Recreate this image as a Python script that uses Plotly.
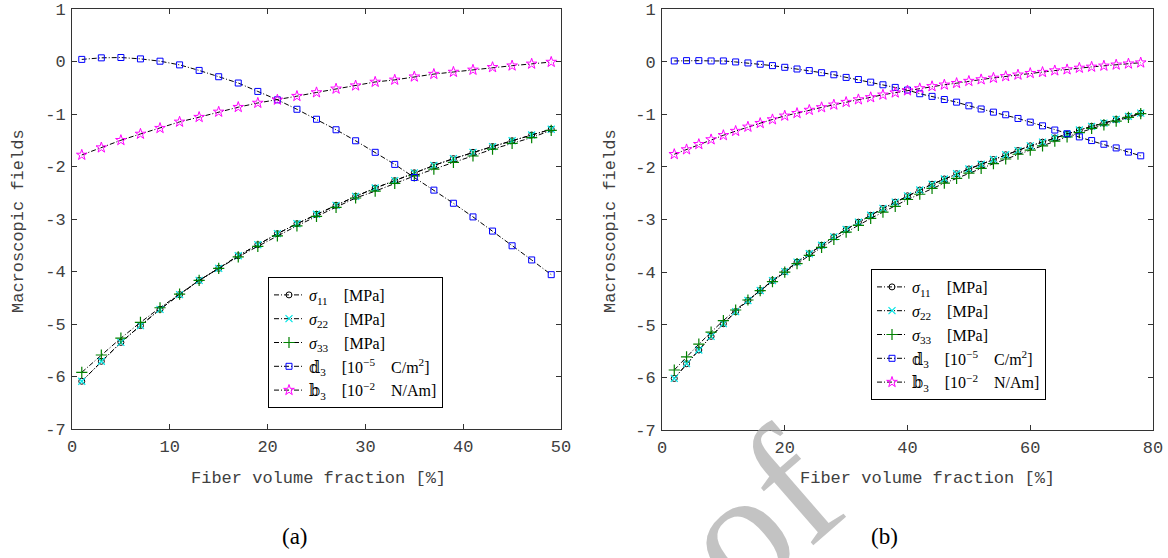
import plotly.graph_objects as go

# ---------------- data (a) ----------------
xa = [1, 3, 5, 7, 9, 11, 13, 15, 17, 19, 21, 23, 25, 27, 29, 31, 33, 35, 37, 39, 41, 43, 45, 47, 49]
s11_a = [-6.09, -5.71, -5.35, -5.03, -4.72, -4.44, -4.17, -3.94, -3.70, -3.49, -3.28, -3.09, -2.91,
         -2.74, -2.57, -2.41, -2.27, -2.12, -1.98, -1.85, -1.73, -1.62, -1.51, -1.40, -1.29]
s22_a = [-6.09, -5.71, -5.35, -5.03, -4.72, -4.44, -4.17, -3.94, -3.70, -3.49, -3.28, -3.09, -2.91,
         -2.74, -2.57, -2.41, -2.27, -2.12, -1.98, -1.85, -1.73, -1.62, -1.51, -1.40, -1.29]
s33_a = [-5.92, -5.59, -5.27, -4.97, -4.69, -4.43, -4.17, -3.94, -3.72, -3.52, -3.32, -3.13, -2.95,
         -2.78, -2.60, -2.47, -2.32, -2.18, -2.05, -1.92, -1.80, -1.67, -1.56, -1.45, -1.31]
d3_a = [0.04, 0.07, 0.076, 0.05, 0.006, -0.064, -0.17, -0.29, -0.41, -0.57, -0.73, -0.91, -1.10,
        -1.30, -1.51, -1.73, -1.96, -2.21, -2.45, -2.70, -2.96, -3.23, -3.51, -3.78, -4.06]
b3_a = [-1.78, -1.64, -1.50, -1.38, -1.27, -1.15, -1.06, -0.96, -0.87, -0.79, -0.73, -0.66, -0.59,
        -0.52, -0.46, -0.39, -0.35, -0.29, -0.24, -0.20, -0.16, -0.11, -0.08, -0.045, -0.01]

# ---------------- data (b) ----------------
xb = [2, 4, 6, 8, 10, 12, 14, 16, 18, 20, 22, 24, 26, 28, 30, 32, 34, 36, 38, 40,
      42, 44, 46, 48, 50, 52, 54, 56, 58, 60, 62, 64, 66, 68, 70, 72, 74, 76, 78]
s11_b = [-6.02, -5.74, -5.48, -5.22, -4.98, -4.75, -4.54, -4.35, -4.16, -3.99, -3.81, -3.65, -3.49,
         -3.33, -3.19, -3.05, -2.92, -2.79, -2.67, -2.55, -2.44, -2.33, -2.23, -2.13, -2.04, -1.95,
         -1.86, -1.77, -1.69, -1.60, -1.53, -1.45, -1.38, -1.30, -1.23, -1.17, -1.10, -1.04, -0.98]
s22_b = [-6.02, -5.74, -5.48, -5.22, -4.98, -4.75, -4.54, -4.35, -4.16, -3.99, -3.81, -3.65, -3.49,
         -3.33, -3.19, -3.05, -2.92, -2.79, -2.67, -2.55, -2.44, -2.33, -2.23, -2.13, -2.04, -1.95,
         -1.86, -1.77, -1.69, -1.60, -1.53, -1.45, -1.38, -1.30, -1.23, -1.17, -1.10, -1.04, -0.98]
s33_b = [-5.86, -5.61, -5.37, -5.14, -4.92, -4.72, -4.53, -4.35, -4.18, -4.00, -3.84, -3.68, -3.53,
         -3.38, -3.24, -3.11, -2.98, -2.86, -2.75, -2.62, -2.52, -2.41, -2.31, -2.22, -2.12, -2.03,
         -1.94, -1.85, -1.76, -1.68, -1.60, -1.51, -1.43, -1.35, -1.27, -1.20, -1.13, -1.06, -0.99]
d3_b = [0.013, 0.019, 0.019, 0.013, 0.013, -0.006, -0.025, -0.05, -0.076, -0.108, -0.14, -0.17, -0.21,
        -0.25, -0.30, -0.34, -0.39, -0.44, -0.49, -0.54, -0.61, -0.66, -0.72, -0.77, -0.84, -0.90,
        -0.96, -1.01, -1.08, -1.15, -1.22, -1.30, -1.37, -1.43, -1.50, -1.57, -1.64, -1.72, -1.79]
b3_b = [-1.76, -1.67, -1.57, -1.48, -1.40, -1.32, -1.24, -1.17, -1.10, -1.03, -0.98, -0.92, -0.87,
        -0.82, -0.77, -0.72, -0.68, -0.63, -0.59, -0.55, -0.51, -0.47, -0.44, -0.41, -0.37, -0.34,
        -0.31, -0.28, -0.25, -0.22, -0.20, -0.17, -0.15, -0.12, -0.10, -0.08, -0.06, -0.04, -0.02]

DS = '<span style="font-family:DejaVu Serif">{}</span>'
G = "\u2002\u2002"
names = ["<i>σ</i><sub>11</sub>" + G + "[MPa]",
         "<i>σ</i><sub>22</sub>" + G + "[MPa]",
         "<i>σ</i><sub>33</sub>" + G + "[MPa]",
         DS.format("𝕕") + "<sub>3</sub>" + G + "[10<sup>−5</sup>" + G + "C/m<sup>2</sup>]",
         DS.format("𝕓") + "<sub>3</sub>" + G + "[10<sup>−2</sup>" + G + "N/Am]"]
y_ticks = [-7, -6, -5, -4, -3, -2, -1, 0, 1]
y_ticktext = ["-7", "-6", "-5", "-4", "-3", "-2", "-1", "0", "1"]
xa_ticks = [0, 10, 20, 30, 40, 50]
xb_ticks = [0, 20, 40, 60, 80]

markers = [
    dict(symbol="circle-open", size=6, color="black", line=dict(color="black", width=1)),
    dict(symbol="x-thin-open", size=7, color="#00e5e5", line=dict(color="#00e5e5", width=1.2)),
    dict(symbol="cross-thin-open", size=8, color="#008000", line=dict(color="#008000", width=1.2)),
    dict(symbol="square-open", size=6, color="#0000ff", line=dict(color="#0000ff", width=1)),
    dict(symbol="star-open", size=8, color="#ff00ff", line=dict(color="#ff00ff", width=1)),
]
line_style = dict(color="black", width=1, dash="5px,2px,1px,2px")

fig = go.Figure()
series_a = [s11_a, s22_a, s33_a, d3_a, b3_a]
series_b = [s11_b, s22_b, s33_b, d3_b, b3_b]
for i, ys in enumerate(series_a):
    fig.add_trace(go.Scatter(x=xa, y=ys, mode="lines+markers", name=names[i], line=line_style,
                             marker=markers[i], xaxis="x", yaxis="y", legend="legend"))
for i, ys in enumerate(series_b):
    fig.add_trace(go.Scatter(x=xb, y=ys, mode="lines+markers", name=names[i], line=line_style,
                             marker=markers[i], xaxis="x2", yaxis="y2", legend="legend2"))

W, H = 1168, 558
def px(v): return v / W
def py(v): return 1 - v / H

tickfont = dict(family="Liberation Mono, Courier New, monospace", size=17, color="#404040")
axis_common = dict(showline=True, linecolor="#333333", linewidth=1, mirror="ticks", ticks="inside",
                   ticklen=5, tickcolor="#333333", showgrid=False, zeroline=False, tickfont=tickfont,
                   automargin=False, ticklabeloverflow="allow")

legend_font = dict(family="Liberation Serif, Times New Roman, serif", size=16, color="black")
fig.update_layout(
    width=W, height=H, margin=dict(l=0, r=0, t=0, b=0, autoexpand=False),
    paper_bgcolor="white", plot_bgcolor="white", showlegend=True,
    xaxis=dict(domain=[px(72), px(561)], range=[0, 50], tickvals=xa_ticks, anchor="y",
               ticklabelstandoff=2, **axis_common),
    yaxis=dict(domain=[py(429), py(9)], range=[-7, 1], tickvals=y_ticks, ticktext=y_ticktext,
               anchor="x", ticklabelstandoff=2, **axis_common),
    xaxis2=dict(domain=[px(662), px(1153)], range=[0, 80], tickvals=xb_ticks, anchor="y2",
                ticklabelstandoff=2, **axis_common),
    yaxis2=dict(domain=[py(430), py(9)], range=[-7, 1], tickvals=y_ticks, ticktext=y_ticktext,
                anchor="x2", ticklabelstandoff=2, **axis_common),
    legend=dict(x=px(268), y=py(277), xanchor="left", yanchor="top", bgcolor="white",
                bordercolor="black", borderwidth=1, font=legend_font,
                itemwidth=30, tracegroupgap=0),
    legend2=dict(x=px(871), y=py(269), xanchor="left", yanchor="top", bgcolor="white",
                 bordercolor="black", borderwidth=1, font=legend_font,
                 itemwidth=30, tracegroupgap=0),
)

title_font = dict(family="Liberation Mono, Courier New, monospace", size=17, color="#404040")
ann = [
    dict(text="Fiber volume fraction [%]", x=px(318), y=py(478), showarrow=False, font=title_font),
    dict(text="Fiber volume fraction [%]", x=px(927), y=py(478), showarrow=False, font=title_font),
    dict(text="Macroscopic fields", x=px(18), y=py(221), showarrow=False, font=title_font, textangle=-90),
    dict(text="Macroscopic fields", x=px(610), y=py(221), showarrow=False, font=title_font, textangle=-90),
    dict(text="(a)", x=px(295), y=py(536), showarrow=False,
         font=dict(family="Liberation Serif, Times New Roman, serif", size=23, color="black")),
    dict(text="(b)", x=px(884), y=py(536), showarrow=False,
         font=dict(family="Liberation Serif, Times New Roman, serif", size=23, color="black")),
    dict(text="of", x=px(758), y=py(515), showarrow=False, textangle=-41,
         font=dict(family="Liberation Serif, Times New Roman, serif", size=175, color="rgba(170,170,170,0.7)")),
]
for a in ann:
    a.update(xref="paper", yref="paper", xanchor="center", yanchor="middle")
fig.update_layout(annotations=ann)

# remove the default 8px page margin so the figure sits at the window's top-left corner
fig.write_html("out.html", config={"displayModeBar": False},
               post_script="document.body.style.margin='0px';")
